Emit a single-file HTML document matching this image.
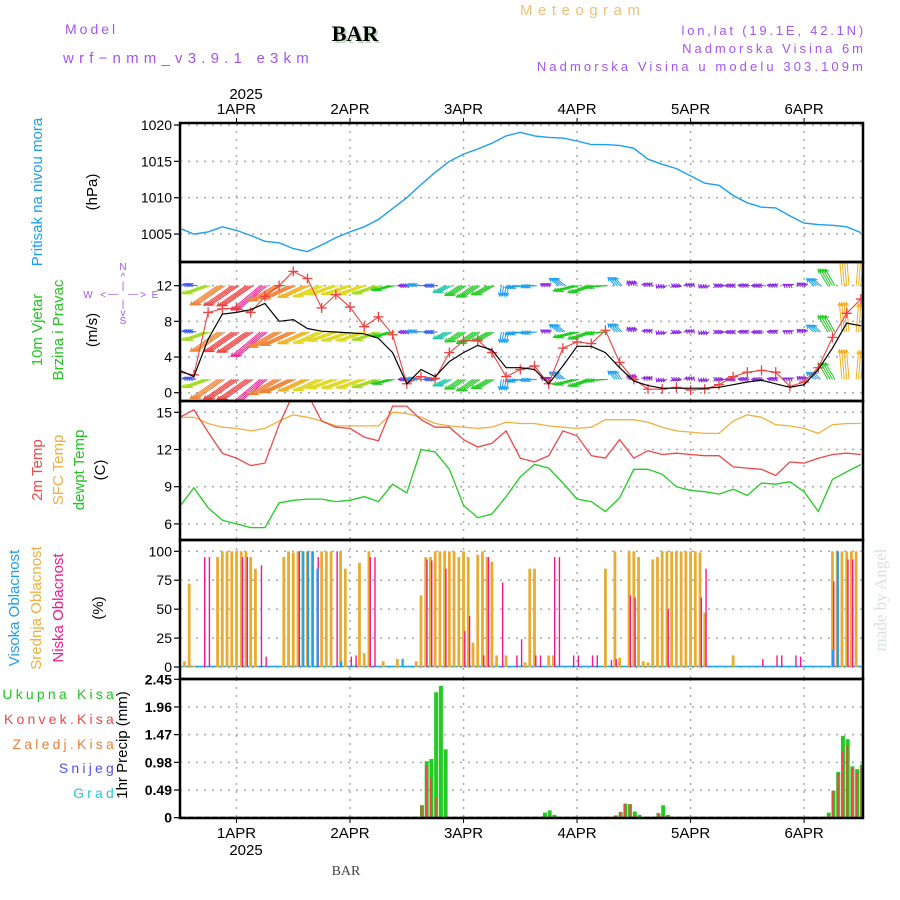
<!DOCTYPE html>
<html><head><meta charset="utf-8"><title>Meteogram BAR</title>
<style>
html,body{margin:0;padding:0;background:#fff;}
svg{display:block;font-family:"Liberation Sans",sans-serif;}
.tk{font-size:14px;fill:#000;text-anchor:end;}
.tkb{font-size:14px;fill:#000;text-anchor:end;font-weight:bold;}
.vl{font-size:15px;text-anchor:middle;}
.hd{font-size:14px;fill:#a355f0;letter-spacing:1.5px;}
</style></head>
<body>
<svg id="chart" width="900" height="900" viewBox="0 0 900 900">
  <rect x="0" y="0" width="900" height="900" fill="#fff"/>
  <!-- header -->
  <text x="65" y="34" class="hd" style="letter-spacing:3px">Model</text>
  <text x="63" y="63" class="hd" style="font-size:15px;letter-spacing:5.2px">wrf−nmm_v3.9.1 e3km</text>
  <text x="357" y="43" text-anchor="middle" style="font-family:'Liberation Serif',serif;font-weight:bold;font-size:22px;fill:#bcd8bc">BAR</text>
  <text x="355" y="41" text-anchor="middle" style="font-family:'Liberation Serif',serif;font-weight:bold;font-size:22px;fill:#000">BAR</text>
  <text x="520" y="15" class="hd" style="fill:#f0c078;font-size:15px;letter-spacing:5.5px">Meteogram</text>
  <text x="866" y="35" text-anchor="end" class="hd" style="font-size:13px;letter-spacing:2.8px">lon,lat (19.1E, 42.1N)</text>
  <text x="866" y="53" text-anchor="end" class="hd" style="font-size:13px;letter-spacing:3px">Nadmorska Visina 6m</text>
  <text x="866" y="71" text-anchor="end" class="hd" style="font-size:13px;letter-spacing:3.1px">Nadmorska Visina u modelu 303.109m</text>

  <!-- left labels -->
  <text transform="translate(42,192) rotate(-90)" class="vl" fill="#1e9ef0">Pritisak na nivou mora</text>
  <text transform="translate(97,192) rotate(-90)" class="vl" fill="#000">(hPa)</text>
  <text transform="translate(42,330) rotate(-90)" class="vl" fill="#22c422">10m Vjetar</text>
  <text transform="translate(63,330) rotate(-90)" class="vl" fill="#22c422">Brzina i Pravac</text>
  <text transform="translate(97,330) rotate(-90)" class="vl" fill="#000">(m/s)</text>
  <g fill="#a355f0" font-size="10" text-anchor="middle">
    <text x="123" y="270">N</text><text x="123" y="280">^</text><text x="123" y="289">|</text>
    <text x="88" y="298">W</text><text x="103" y="298">&lt;</text><text x="113" y="297">—</text><text x="133" y="297">—</text><text x="143" y="298">&gt;</text><text x="155" y="298">E</text>
    <text x="123" y="307">|</text><text x="123" y="316">v</text><text x="123" y="324">S</text>
  </g>
  <text transform="translate(42,470) rotate(-90)" class="vl" fill="#f04848">2m Temp</text>
  <text transform="translate(63,470) rotate(-90)" class="vl" fill="#f0b040">SFC Temp</text>
  <text transform="translate(84,470) rotate(-90)" class="vl" fill="#22c422">dewpt Temp</text>
  <text transform="translate(105,470) rotate(-90)" class="vl" fill="#000">(C)</text>
  <text transform="translate(19,608) rotate(-90)" class="vl" fill="#1e9ef0">Visoka Oblacnost</text>
  <text transform="translate(41,608) rotate(-90)" class="vl" fill="#f0b040">Srednja Oblacnost</text>
  <text transform="translate(63,608) rotate(-90)" class="vl" fill="#f01890">Niska Oblacnost</text>
  <text transform="translate(103,608) rotate(-90)" class="vl" fill="#000">(%)</text>
  <g font-size="14" text-anchor="end" letter-spacing="3.2">
    <text x="117" y="699" fill="#22c422">Ukupna Kisa</text>
    <text x="117" y="724" fill="#f04848">Konvek.Kisa</text>
    <text x="117" y="749" fill="#f08038">Zaledj.Kisa</text>
    <text x="117" y="773" fill="#5050f0">Snijeg</text>
    <text x="117" y="798" fill="#28c8d8">Grad</text>
  </g>
  <text transform="translate(127,745) rotate(-90)" class="vl" fill="#000">1hr Precip (mm)</text>
  <text transform="translate(886,600) rotate(-90)" text-anchor="middle" style="font-family:'Liberation Serif',serif;font-size:17px;fill:#d6e4d6">made by Angel</text>
  <text x="346" y="875" text-anchor="middle" style="font-family:'Liberation Serif',serif;font-size:14px;fill:#444">BAR</text>
  <text x="246" y="99" text-anchor="middle" font-size="15">2025</text>
  <text x="246" y="855" text-anchor="middle" font-size="15">2025</text>
  <g id="grid"></g>
  <g id="marks"></g>
  <g id="axes"></g>
</svg>
<script>
// ---- data (3-hourly samples from 31 Mar 12UTC, hours relative to 1APR 00UTC) ----
const hours3 = [-12,-9,-6,-3,0,3,6,9,12,15,18,21,24,27,30,33,36,39,42,45,48,51,54,57,60,63,66,69,72,75,78,81,84,87,90,93,96,99,102,105,108,111,114,117,120,123,126,129,132];
const pressure = [1005.8,1005.0,1005.3,1006.0,1005.5,1004.8,1004.0,1003.8,1003.0,1002.6,1003.5,1004.5,1005.3,1006.0,1007.0,1008.5,1010.0,1011.8,1013.5,1015.0,1016.0,1016.7,1017.5,1018.5,1019.0,1018.5,1018.3,1018.2,1017.8,1017.3,1017.3,1017.2,1016.8,1015.3,1014.6,1014.0,1013.0,1012.0,1011.7,1010.3,1009.3,1008.7,1008.6,1007.5,1006.5,1006.3,1006.2,1006.0,1005.2];
const windSpeed = [2.5,1.8,6.0,8.8,9.0,9.3,10.0,8.0,8.2,7.2,6.9,6.8,6.7,6.6,6.1,4.5,1.0,2.6,1.8,3.5,4.5,5.3,4.8,2.8,2.8,2.6,1.0,3.0,5.2,5.2,4.5,2.8,1.3,0.8,0.5,0.5,0.5,0.5,0.6,0.9,1.2,1.4,1.0,0.6,0.9,2.6,5.0,7.8,7.5];
const windGust = [2.3,2.0,9.0,9.4,9.5,9.0,10.8,12.0,13.6,12.8,9.5,11.0,9.6,7.4,8.5,6.5,1.0,1.8,1.6,4.5,5.8,5.9,4.5,1.8,2.6,3.0,1.0,5.0,5.7,5.5,7.0,3.4,1.5,0.4,0.4,0.6,0.3,0.4,0.9,1.8,2.3,2.5,2.3,0.7,1.2,2.8,6.2,8.9,10.5];
const windDir = [270,280,250,235,235,235,230,240,245,245,245,250,250,250,250,255,270,275,270,240,235,235,240,190,260,265,300,310,255,250,265,320,340,30,200,100,20,200,90,270,275,270,280,300,320,315,330,355,5];
const temp2m = [14.6,15.2,13.4,11.7,11.3,10.7,10.9,14.0,16.5,16.5,14.3,13.8,13.7,13.0,12.7,15.5,15.5,14.4,13.8,13.8,12.8,12.2,12.5,13.5,11.3,11.0,11.5,13.5,13.1,11.5,11.3,12.8,11.3,11.9,11.6,11.7,11.6,11.5,11.5,10.6,10.5,10.4,9.9,11.0,10.9,11.3,11.6,11.7,11.6];
const tempSfc = [14.6,14.6,14.1,13.8,13.7,13.5,13.7,14.3,14.8,14.6,14.3,13.9,13.9,13.9,13.9,15.0,14.9,14.6,14.1,13.9,13.8,13.7,13.8,14.2,14.1,14.1,13.9,13.8,13.7,13.8,14.4,14.4,14.4,14.2,13.8,13.5,13.4,13.3,13.3,14.3,14.8,14.6,14.0,13.9,13.7,13.3,14.0,14.1,14.1];
const dewpt = [7.4,8.9,7.3,6.3,6.0,5.7,5.7,7.7,7.9,8.0,8.0,7.8,7.9,8.2,7.8,9.2,8.5,12.0,11.8,10.4,7.5,6.5,6.8,8.2,9.8,10.8,10.5,9.3,8.0,7.8,7.0,8.1,10.4,10.4,10.0,9.0,8.7,8.6,8.4,8.8,8.3,9.3,9.2,9.4,8.6,7.0,9.6,10.2,10.8];
// hourly cloud cover (only hours with cloud)
const cloudHours = [-11,-10,-9,-7,-6,-4,-3,-2,-1,0,1,2,3,4,5,6,10,11,12,13,14,15,16,17,18,19,20,21,22,23,24,25,26,27,28,29,31,34,35,38,39,40,41,42,43,44,45,46,47,48,49,50,51,52,53,54,55,56,57,59,60,61,62,63,64,66,67,68,71,72,75,76,78,79,80,81,83,84,85,86,87,88,89,90,91,92,93,94,95,96,97,98,99,105,111,114,115,118,119,126,127,128,129,130,131];
const cloudMid = [5,72,1,0,0,95,100,100,100,100,100,100,95,85,0,0,95,100,99,100,100,100,100,0,100,100,100,0,100,85,0,0,90,12,100,0,5,7,0,5,62,95,95,100,100,100,100,100,95,100,95,21,97,100,95,91,10,0,10,0,0,4,85,85,0,10,10,0,0,0,0,0,85,0,100,8,100,100,95,5,4,93,95,100,100,100,100,100,100,100,100,99,47,10,0,0,0,0,0,100,100,100,100,100,100];
const cloudLow = [0,0,0,95,95,0,0,0,0,0,95,95,0,0,88,9,0,0,0,100,0,0,0,95,0,0,0,100,0,0,9,10,0,0,95,95,0,0,0,0,0,93,92,0,0,85,0,0,0,31,44,0,0,10,95,0,0,73,0,10,24,0,0,10,10,0,95,95,10,10,10,10,0,6,7,0,62,60,0,0,0,0,0,0,50,0,0,0,0,0,0,60,85,0,7,10,10,10,9,74,0,0,93,93,0];
const cloudHigh = [0,0,0,0,0,0,0,0,0,0,0,0,0,0,0,0,0,0,0,0,100,100,100,85,0,0,0,0,5,0,0,0,0,0,0,0,0,0,7,0,0,0,0,0,0,0,0,0,0,0,0,0,0,0,0,0,0,0,0,0,0,0,0,0,0,0,0,0,0,0,0,0,0,0,0,0,0,0,0,0,0,0,0,0,0,0,0,0,0,0,0,0,0,0,0,0,0,0,0,15,100,0,0,0,0];
// hourly precipitation (only hours with precip)
const precipHours = [39,40,41,42,43,44,65,66,67,80,81,82,83,84,85,89,90,91,125,126,127,128,129,130,131,132];
const precipTotal = [0.22,1.0,1.04,2.22,2.33,1.21,0.09,0.13,0.05,0.04,0.1,0.25,0.24,0.11,0.05,0.08,0.22,0.05,0.09,0.48,0.81,1.45,1.39,0.91,0.86,0.94];
const precipConv = [0.22,0.93,0.7,0.35,0,0,0,0.04,0,0.04,0.1,0.25,0.24,0.05,0,0.08,0.05,0.03,0.05,0.48,0.78,1.17,1.27,0.88,0.8,0.9];
const dayLabels = ['1APR','2APR','3APR','4APR','5APR','6APR'];
const pTicks = [1005,1010,1015,1020];
const wTicks = [0,4,8,12];
const tTicks = [6,9,12,15];
const cTicks = [0,25,50,75,100];
const rTicks = [0,0.49,0.98,1.47,1.96,2.45];

// ---- scales ----
const X0 = 180, X1 = 863;
const xh = h => 236.5 + h * 4.73;
const yP = v => 125 + (1020 - v) * 7.27;
const yW = v => 392.7 - v * 8.92;
const yT = v => 412.3 + (15 - v) * 12.4;
const yC = v => 667 - v * 1.157;
const yR = v => 817.7 - v * 56.5;
const panels = [[123,262,yP,pTicks,'pressure'],[262,401,yW,wTicks,'wind'],[401,540,yT,tTicks,'temp'],[540,679,yC,cTicks,'cloud'],[679,818,yR,rTicks,'precip']];

const NS = 'http://www.w3.org/2000/svg';
function mk(parent, tag, attrs) {
  const e = document.createElementNS(NS, tag);
  for (const k in attrs) e.setAttribute(k, attrs[k]);
  parent.appendChild(e);
  return e;
}
const grid = document.getElementById('grid');
const marks = document.getElementById('marks');
const axes = document.getElementById('axes');

const defs = mk(document.getElementById('chart'), 'defs', {});
panels.forEach((p, i) => {
  const cp = mk(defs, 'clipPath', {id: 'clip' + i});
  mk(cp, 'rect', {x: X0, y: p[0], width: X1 - X0, height: p[1] - p[0]});
});

panels.forEach((p, i) => {
  const [top, bot, ys, ticks, nm] = p;
  ticks.forEach((t, j) => {
    const y = ys(t);
    const g = mk(grid, 'line', {x1: X0, x2: X1, y1: y, y2: y, stroke: '#aaa', 'stroke-width': 1.5, 'stroke-dasharray': '2,6'});
    
    
    const tk = mk(axes, 'line', {x1: X0 - 6, x2: X0, y1: y, y2: y, stroke: '#000', 'stroke-width': 1.2});
    
    
    const lb = mk(axes, 'text', {x: X0 - 8, y: y + 5, class: nm === 'precip' ? 'tkb' : 'tk'});
    lb.textContent = String(t);
    
    
  });
  for (let d = 0; d < dayLabels.length; d++) {
    const x = xh(24 * d);
    const v = mk(grid, 'line', {x1: x, x2: x, y1: top, y2: bot, stroke: '#aaa', 'stroke-width': 1.5, 'stroke-dasharray': '2,6'});
    
    
  }
  const fr = mk(axes, 'rect', {x: X0, y: top, width: X1 - X0, height: bot - top, fill: 'none', stroke: '#000', 'stroke-width': 2.5});
  
  
});
dayLabels.forEach((d, i) => {
  const x = xh(24 * i);
  const t1 = mk(axes, 'text', {x: x, y: 114, 'text-anchor': 'middle', 'font-size': 15});
  t1.textContent = d;
  
  
  const t2 = mk(axes, 'text', {x: x, y: 838, 'text-anchor': 'middle', 'font-size': 15});
  t2.textContent = d;
  
  
  mk(axes, 'line', {x1: x, x2: x, y1: 118, y2: 123, stroke: '#000'});
  mk(axes, 'line', {x1: x, x2: x, y1: 818, y2: 823, stroke: '#000'});
});

function polyline(g, xs, vals, ys, color, w, name, clip) {
  const pts = vals.map((v, i) => xh(xs[i]).toFixed(1) + ',' + ys(v).toFixed(1)).join(' ');
  const pl = mk(g, 'polyline', {points: pts, fill: 'none', stroke: color, 'stroke-width': w, 'clip-path': 'url(#' + clip + ')'});
  
  
  return pl;
}

polyline(marks, hours3, pressure, yP, '#1e9ef0', 1.4, 'pressure-line', 'clip0');

function speedColor(s) {
  if (s < 1.5) return '#8a2be2';
  if (s < 2.5) return '#3a5cf0';
  if (s < 3.5) return '#1ea0f0';
  if (s < 4.5) return '#20c8a8';
  if (s < 5.5) return '#22cc22';
  if (s < 6.3) return '#a0dc20';
  if (s < 7.0) return '#e0d820';
  if (s < 8.0) return '#f0b020';
  if (s < 9.0) return '#f08030';
  if (s < 9.8) return '#f04040';
  return '#f02090';
}
const rowBase = [12.0, 6.8, 1.5];
const windG = mk(marks, 'g', {'clip-path': 'url(#clip1)'});


hours3.forEach((h, i) => {
  const s = windSpeed[i], a = windDir[i] * Math.PI / 180;
  const len = Math.max(2.5, s * 3.8);
  const dx = len * Math.sin(a), dy = -len * Math.cos(a);
  const col = speedColor(s);
  rowBase.forEach(rb => {
    [-4.73, -2.36, 0, 2.36].forEach(off => {
      const x0 = xh(h) + off, y0 = yW(rb);
      const x1 = x0 + dx, y1 = y0 + dy;
      const ar = mk(windG, 'line', {x1: x0, y1: y0, x2: x1, y2: y1, stroke: col, 'stroke-width': 1});
      
      
      const hl = 4, ang = Math.atan2(dy, dx);
      const hd = mk(windG, 'polyline', {points: (x1 - hl * Math.cos(ang - 0.5)) + ',' + (y1 - hl * Math.sin(ang - 0.5)) + ' ' + x1 + ',' + y1 + ' ' + (x1 - hl * Math.cos(ang + 0.5)) + ',' + (y1 - hl * Math.sin(ang + 0.5)), fill: 'none', stroke: col, 'stroke-width': 1});
      
      
    });
  });
});
polyline(marks, hours3, windGust, yW, '#f04040', 1.1, 'wind-gust-line', 'clip1');
const gustG = mk(marks, 'g', {'clip-path': 'url(#clip1)'});
hours3.forEach((h, i) => {
  const x = xh(h), y = yW(windGust[i]);
  const p = mk(gustG, 'path', {d: 'M' + (x - 5) + ',' + y + 'H' + (x + 5) + 'M' + x + ',' + (y - 5) + 'V' + (y + 5), stroke: '#f04040', 'stroke-width': 1.3});
  
  
});
polyline(marks, hours3, windSpeed, yW, '#000', 1.2, 'wind-speed-line', 'clip1');

polyline(marks, hours3, tempSfc, yT, '#f0b040', 1.3, 'sfc-temp-line', 'clip2');
polyline(marks, hours3, temp2m, yT, '#f04848', 1.3, 'temp-2m-line', 'clip2');
polyline(marks, hours3, dewpt, yT, '#22cc22', 1.3, 'dewpoint-line', 'clip2');

const cb = mk(marks, 'line', {x1: X0 + 2, x2: X1 - 2, y1: yC(0) - 0.5, y2: yC(0) - 0.5, stroke: '#1ea0f0', 'stroke-width': 1.5});


cloudHours.forEach((h, i) => {
  const x = xh(h);
  if (cloudMid[i] > 0) {
    const r = mk(marks, 'rect', {x: x - 1.4, y: yC(cloudMid[i]), width: 2.8, height: yC(0) - yC(cloudMid[i]), fill: '#e8ac30'});
    
    
  }
  if (cloudLow[i] > 0) {
    const r = mk(marks, 'rect', {x: x + 0.6, y: yC(cloudLow[i]), width: 1.4, height: yC(0) - yC(cloudLow[i]), fill: '#f01890'});
    
    
  }
  if (cloudHigh[i] > 0) {
    const r = mk(marks, 'rect', {x: x - 0.5, y: yC(cloudHigh[i]), width: 2.2, height: yC(0) - yC(cloudHigh[i]), fill: '#1ea0f0'});
    
    
  }
});

const pb = mk(marks, 'line', {x1: X0, x2: X1, y1: yR(0), y2: yR(0), stroke: '#000', 'stroke-width': 2, 'stroke-dasharray': '6,2'});


precipHours.forEach((h, i) => {
  const x = xh(h) + 1;
  const r = mk(marks, 'rect', {x: x - 2, y: yR(precipTotal[i]), width: 4, height: yR(0) - yR(precipTotal[i]), fill: '#22cc22'});
  
  
  if (precipConv[i] > 0) {
    const c = mk(marks, 'rect', {x: x - 1.4, y: yR(precipConv[i]), width: 2, height: yR(0) - yR(precipConv[i]), fill: '#f04848'});
    
    
  }
});
</script>
</body></html>
